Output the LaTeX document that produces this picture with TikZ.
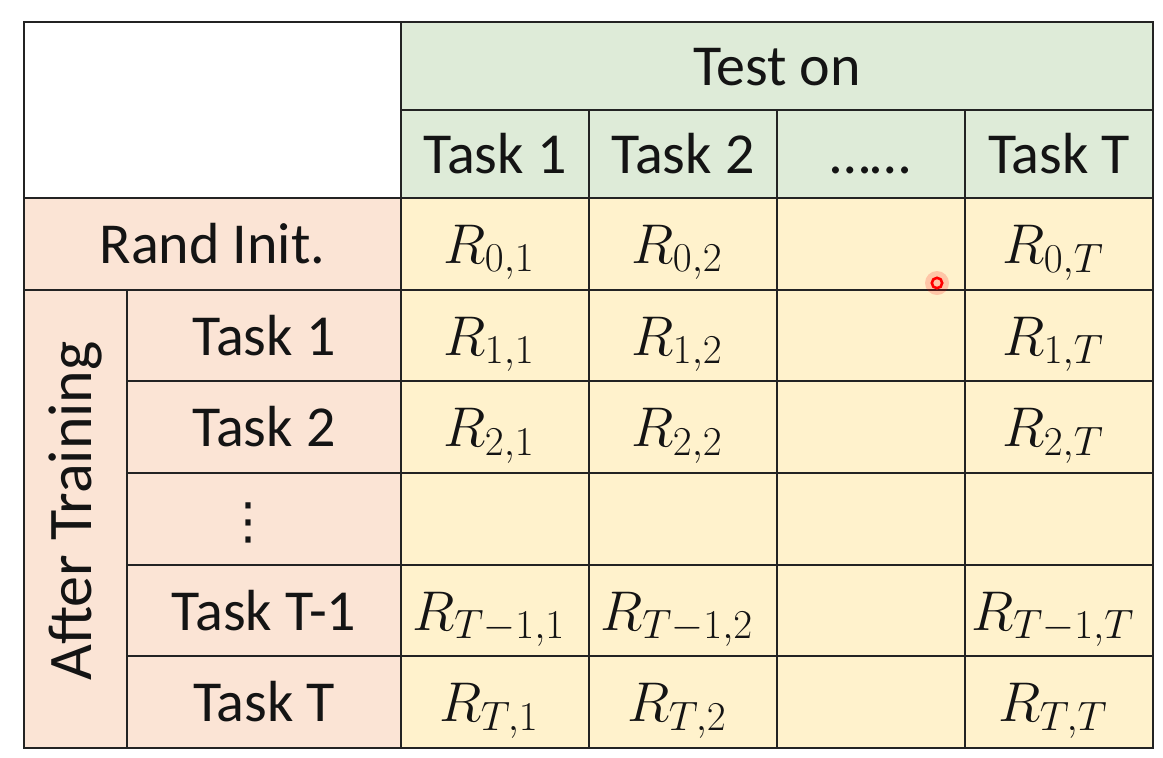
\documentclass[tikz,border=0pt]{standalone}
\usepackage{fix-cm}
\usepackage[no-math]{fontspec}
\setmainfont{Carlito}
\newfontfamily\dotsfont{DejaVu Sans}

\definecolor{headgreen}{HTML}{DEEBD8}
\definecolor{rowpeach}{HTML}{FBE4D5}
\definecolor{cellyellow}{HTML}{FFF2CC}
\definecolor{gridline}{HTML}{232323}

\DeclareMathSizes{28}{28}{20.5}{15}
\newcommand{\Rv}[1]{{\fontsize{28}{34}\selectfont$R_{#1}$}\kern6pt}

\tikzset{
  cell/.style={draw=gridline, line width=0.9pt, inner sep=0pt, text=black!92,
    minimum width=94pt, minimum height=45.83pt, text height=22pt, text depth=2.5pt},
  headcell/.style={cell, fill=headgreen, minimum height=44pt},
  labcell/.style={cell, fill=rowpeach},
  valcell/.style={cell, fill=cellyellow}
}

\begin{document}
\begin{tikzpicture}[x=0.5pt, y=-0.5pt, font=\fontsize{29}{35}\selectfont]
      \useasboundingbox (0,0) rectangle (1163,757);

        % Header
        \node[cell, fill=white, minimum width=188.5pt, minimum height=88pt] (corner) at (212.5,110) {};
        \node[headcell, minimum width=376pt] (teston) at (777,66) {Test on};
        \node[headcell] (h1) at (495,154) {Task 1};
        \node[headcell] (h2) at (683,154) {Task 2};
        \node[headcell] (h3) at (871,154) {……};
        \node[headcell] (hT) at (1059,154) {Task T};

        % Row labels
        \node[labcell, minimum width=188.5pt] (rand) at (212.5,243.8) {Rand Init.};
        \node[labcell, minimum width=51.5pt, minimum height=229.17pt] (afterbox) at (75.5,518.8) {};
        \node[rotate=90, inner sep=0pt, font=\fontsize{31}{37}\selectfont, text=black!92] (after) at (75.5,511) {After Training};
        \node[labcell, minimum width=137pt] (t1) at (264,335.5) {Task 1};
        \node[labcell, minimum width=137pt] (t2) at (264,427.2) {Task 2};
        \node[labcell, minimum width=137pt] (tdots) at (264,518.8) {\fontsize{25}{30}\selectfont\dotsfont ⋮\kern16pt};
        \node[labcell, minimum width=137pt] (tm) at (264,610.5) {Task T-1};
        \node[labcell, minimum width=137pt] (tT) at (264,702.2) {Task T};

        % Values
        \node[valcell] (v01) at (495,243.8) {\Rv{0,1}};
        \node[valcell] (v02) at (683,243.8) {\Rv{0,2}};
        \node[valcell] (v03) at (871,243.8) {};
        \node[valcell] (v0T) at (1059,243.8) {\Rv{0,T}};

        \node[valcell] (v11) at (495,335.5) {\Rv{1,1}};
        \node[valcell] (v12) at (683,335.5) {\Rv{1,2}};
        \node[valcell] (v13) at (871,335.5) {};
        \node[valcell] (v1T) at (1059,335.5) {\Rv{1,T}};

        \node[valcell] (v21) at (495,427.2) {\Rv{2,1}};
        \node[valcell] (v22) at (683,427.2) {\Rv{2,2}};
        \node[valcell] (v23) at (871,427.2) {};
        \node[valcell] (v2T) at (1059,427.2) {\Rv{2,T}};

        \node[valcell] (vd1) at (495,518.8) {};
        \node[valcell] (vd2) at (683,518.8) {};
        \node[valcell] (vd3) at (871,518.8) {};
        \node[valcell] (vdT) at (1059,518.8) {};

        \node[valcell] (vm1) at (495,610.5) {\Rv{T-1,1}};
        \node[valcell] (vm2) at (683,610.5) {\Rv{T-1,2}};
        \node[valcell] (vm3) at (871,610.5) {};
        \node[valcell] (vmT) at (1059,610.5) {\Rv{T-1,T}};

        \node[valcell] (vT1) at (495,702.2) {\Rv{T,1}};
        \node[valcell] (vT2) at (683,702.2) {\Rv{T,2}};
        \node[valcell] (vT3) at (871,702.2) {};
        \node[valcell] (vTT) at (1059,702.2) {\Rv{T,T}};

        % Pointer
        \fill[red, opacity=0.18] (937,283) circle (6pt);
        \draw[red, line width=1.3pt] (937,283) circle (2.6pt);

    \end{tikzpicture}
\end{document}
